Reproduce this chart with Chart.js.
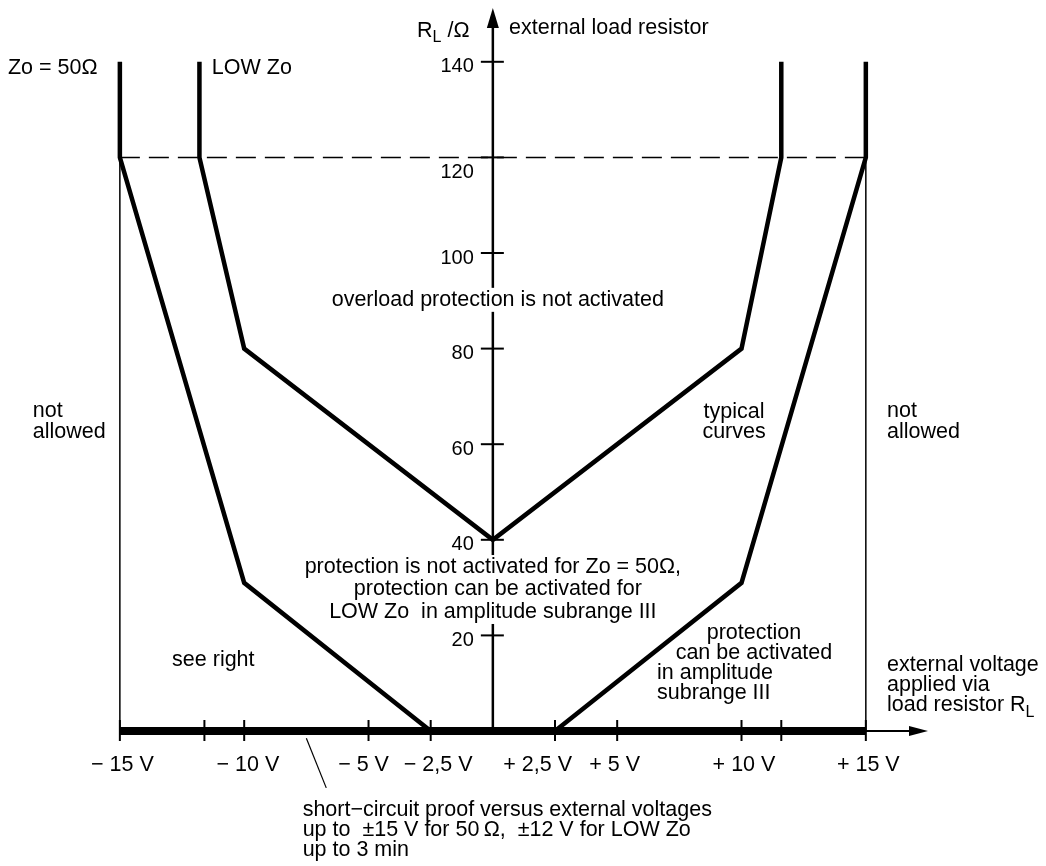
<!DOCTYPE html>
<html>
<head>
<meta charset="utf-8">
<script src="https://cdn.jsdelivr.net/npm/chart.js@4.4.0/dist/chart.umd.min.js"></script>
<style>
  body { margin: 0; background: #fff; }
  #chart { display: block; }
</style>
</head>
<body>
<canvas id="chart" width="1046" height="866"></canvas>
<script>
// values (V = external voltage, R = load resistor in ohm)
var zo50LeftV  = [-15, -15, -10, -2.5];
var zo50LeftR  = [140, 120, 31, 0];
var zo50RightV = [15, 15, 10, 2.5];
var zo50RightR = [140, 120, 31, 0];
var lowZoV = [-11.8, -11.8, -10, 0, 10, 11.6, 11.6];
var lowZoR = [140, 120, 80, 40, 80, 120, 140];
var limitV = [-15, 15];
var limitR = 120;

// tick marks on the voltage axis, and where their labels sit
var xTickValues = [-15, -11.6, -10, -5, -2.5, 2.5, 5, 10, 11.6, 15];
var xLabelValues = [-14.9, -9.85, -5.2, -2.2, 1.8, 4.9, 10.1, 15.1];
var xLabelTexts = ['\u2212 15 V', '\u2212 10 V', '\u2212 5 V', '\u2212 2,5 V', '+ 2,5 V', '+ 5 V', '+ 10 V', '+ 15 V'];
var yTickValues = [20, 40, 60, 80, 100, 120, 140];
var yTickLabels = ['20', '40', '60', '80', '100', '120', '140'];

var FONT = '21.5px "Liberation Sans", Arial, sans-serif';
var TICKFONT = '20px "Liberation Sans", Arial, sans-serif';
var SUBFONT = '16px "Liberation Sans", Arial, sans-serif';

function pts(xs, ys) {
    var out = [];
    for (var i in xs) {
        out.push({x: xs[i], y: Array.isArray(ys) ? ys[i] : ys});
    }
    return out;
}

function lineSet(data, width, dash) {
    return {
        data: data,
        showLine: true,
        borderColor: '#000',
        borderWidth: width,
        borderDash: dash || [],
        pointRadius: 0,
        fill: false,
        tension: 0,
        borderCapStyle: 'butt',
        borderJoinStyle: 'miter'
    };
}

// text notes, placed in axis units (V, ohm)
var notes = [
    {t: 'Zo = 50\u03a9', x: -19.5, y: 138.7, a: 'left'},
    {t: 'LOW Zo', x: -11.3, y: 138.7, a: 'left'},
    {t: 'external load resistor', x: 0.65, y: 147, a: 'left'},
    {t: 'overload protection is not activated', x: 0.2, y: 90.2, a: 'center', bg: true},
    {t: 'not', x: -18.5, y: 67.0, a: 'left'},
    {t: 'allowed', x: -18.5, y: 62.6, a: 'left'},
    {t: 'not', x: 15.85, y: 67.0, a: 'left'},
    {t: 'allowed', x: 15.85, y: 62.6, a: 'left'},
    {t: 'typical', x: 9.7, y: 66.7, a: 'center'},
    {t: 'curves', x: 9.7, y: 62.6, a: 'center'},
    {t: 'protection is not activated for Zo = 50\u03a9,', x: 0, y: 34.3, a: 'center', bg: true},
    {t: 'protection can be activated for', x: 0.2, y: 29.6, a: 'center', bg: true},
    {t: 'LOW Zo  in amplitude subrange III', x: 0, y: 24.9, a: 'center', bg: true},
    {t: 'protection', x: 10.5, y: 20.5, a: 'center'},
    {t: 'can be activated', x: 10.5, y: 16.3, a: 'center'},
    {t: 'in amplitude', x: 6.6, y: 12.1, a: 'left'},
    {t: 'subrange III', x: 6.6, y: 7.9, a: 'left'},
    {t: 'see right', x: -12.9, y: 14.9, a: 'left'},
    {t: 'external voltage', x: 15.85, y: 13.8, a: 'left'},
    {t: 'applied via', x: 15.85, y: 9.6, a: 'left'},
    {t: 'short\u2212circuit proof versus external voltages', x: -7.65, y: -16.5, a: 'left'},
    {t: 'up to  \u00b115 V for 50\u2009\u03a9,  \u00b112 V for LOW Zo', x: -7.65, y: -20.7, a: 'left'},
    {t: 'up to 3 min', x: -7.65, y: -24.9, a: 'left'}
];

var axesPlugin = {
    id: 'axesPlugin',
    afterDatasetsDraw: function(chart) {
        var ctx = chart.ctx;
        var xs = chart.scales.x, ys = chart.scales.y;
        var x0 = xs.getPixelForValue(0);
        var y0 = ys.getPixelForValue(0);
        ctx.save();
        ctx.strokeStyle = '#000';
        ctx.fillStyle = '#000';

        // vertical R axis with arrow
        var tipY = 8;
        ctx.lineWidth = 2.5;
        ctx.beginPath();
        ctx.moveTo(x0, y0);
        ctx.lineTo(x0, tipY + 18);
        ctx.stroke();
        ctx.beginPath();
        ctx.moveTo(x0, tipY);
        ctx.lineTo(x0 - 6, tipY + 20);
        ctx.lineTo(x0 + 6, tipY + 20);
        ctx.closePath();
        ctx.fill();

        ctx.lineWidth = 2;
        ctx.font = TICKFONT;
        ctx.textAlign = 'right';
        ctx.textBaseline = 'middle';
        for (var i in yTickValues) {
            var py = ys.getPixelForValue(yTickValues[i]);
            ctx.beginPath();
            ctx.moveTo(x0 - 12, py);
            ctx.lineTo(x0 + 11, py);
            ctx.stroke();
            // the 120 label sits clear below the dashed limit line
            var dy = yTickValues[i] === limitR ? 15 : 5;
            ctx.fillText(yTickLabels[i], x0 - 19, py + dy);
        }

        // thick voltage axis -15..15, thin arrow beyond
        var xl = xs.getPixelForValue(-15), xr = xs.getPixelForValue(15);
        ctx.lineWidth = 8;
        ctx.beginPath();
        ctx.moveTo(xl, y0);
        ctx.lineTo(xr, y0);
        ctx.stroke();
        var tipX = xs.right;
        ctx.lineWidth = 2;
        ctx.beginPath();
        ctx.moveTo(xr, y0);
        ctx.lineTo(tipX - 16, y0);
        ctx.stroke();
        ctx.beginPath();
        ctx.moveTo(tipX, y0);
        ctx.lineTo(tipX - 19, y0 - 5);
        ctx.lineTo(tipX - 19, y0 + 5);
        ctx.closePath();
        ctx.fill();

        for (var j in xTickValues) {
            var px = xs.getPixelForValue(xTickValues[j]);
            ctx.beginPath();
            ctx.moveTo(px, y0 - 11);
            ctx.lineTo(px, y0 + 10);
            ctx.stroke();
        }
        ctx.font = FONT;
        ctx.textAlign = 'center';
        for (var m in xLabelValues) {
            ctx.fillText(xLabelTexts[m], xs.getPixelForValue(xLabelValues[m]), y0 + 34);
        }

        // pointer to the short-circuit note
        ctx.lineWidth = 1.2;
        ctx.beginPath();
        ctx.moveTo(xs.getPixelForValue(-7.5), ys.getPixelForValue(-1.5));
        ctx.lineTo(xs.getPixelForValue(-6.7), ys.getPixelForValue(-11.9));
        ctx.stroke();

        // notes
        ctx.font = FONT;
        ctx.textBaseline = 'middle';
        for (var k in notes) {
            var n = notes[k];
            var nx = xs.getPixelForValue(n.x), ny = ys.getPixelForValue(n.y);
            ctx.textAlign = n.a;
            if (n.bg) {
                var w = ctx.measureText(n.t).width;
                var left = n.a === 'center' ? nx - w / 2 : nx;
                ctx.fillStyle = '#fff';
                ctx.fillRect(left - 4, ny - 12, w + 8, 24);
                ctx.fillStyle = '#000';
            }
            ctx.fillText(n.t, nx, ny);
        }

        // labels with subscript L
        ctx.textAlign = 'left';
        var ry = ys.getPixelForValue(146.5);
        var rx = xs.getPixelForValue(-3.05);
        ctx.font = FONT;
        ctx.fillText('R', rx, ry);
        var w1 = ctx.measureText('R').width;
        ctx.font = SUBFONT;
        ctx.fillText('L', rx + w1, ry + 7);
        var w2 = ctx.measureText('L').width;
        ctx.font = FONT;
        ctx.fillText(' /\u03a9', rx + w1 + w2, ry);

        var lx = xs.getPixelForValue(15.85);
        var lyy = ys.getPixelForValue(5.4);
        ctx.fillText('load resistor R', lx, lyy);
        var w3 = ctx.measureText('load resistor R').width;
        ctx.font = SUBFONT;
        ctx.fillText('L', lx + w3, lyy + 7);

        ctx.restore();
    }
};

var ctx = document.getElementById('chart');
var chart = new Chart(ctx, {
    type: 'scatter',
    data: {
        datasets: [
            lineSet(pts(limitV, limitR), 1.5, [20, 9]),
            lineSet(pts([limitV[0], limitV[0]], [limitR, 0]), 1.5),
            lineSet(pts([limitV[1], limitV[1]], [limitR, 0]), 1.5),
            lineSet(pts(zo50LeftV, zo50LeftR), 4.5),
            lineSet(pts(zo50RightV, zo50RightR), 4.5),
            lineSet(pts(lowZoV, lowZoR), 4.5)
        ]
    },
    options: {
        responsive: false,
        animation: false,
        layout: { padding: { left: 95, right: 118, top: 14, bottom: 135 } },
        plugins: { legend: { display: false }, tooltip: { enabled: false } },
        scales: {
            x: { type: 'linear', min: -16, max: 17.5, display: false },
            y: { type: 'linear', min: 0, max: 150, display: false }
        }
    },
    plugins: [axesPlugin]
});
</script>
</body>
</html>
